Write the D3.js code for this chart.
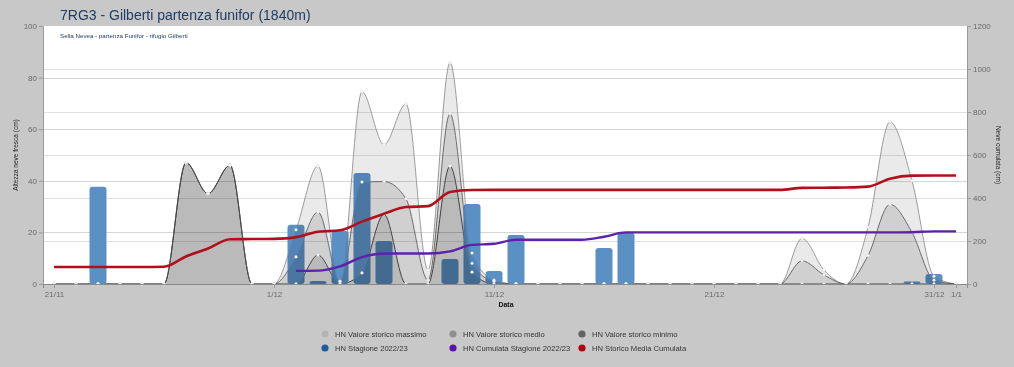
<!DOCTYPE html>
<html><head><meta charset="utf-8">
<script src="https://cdn.jsdelivr.net/npm/d3@7"></script>
<style>
html,body{margin:0;padding:0;background:#c8c8c8;}
svg{display:block;font-family:"Liberation Sans",Arial,sans-serif;}
</style></head><body>
<svg id="chart" width="1014" height="367"></svg>
<script>
// ---- categories (days) ----
const days = [
 "2022-11-21","2022-11-22","2022-11-23","2022-11-24","2022-11-25",
 "2022-11-26","2022-11-27","2022-11-28","2022-11-29","2022-11-30",
 "2022-12-01","2022-12-02","2022-12-03","2022-12-04","2022-12-05",
 "2022-12-06","2022-12-07","2022-12-08","2022-12-09","2022-12-10",
 "2022-12-11","2022-12-12","2022-12-13","2022-12-14","2022-12-15",
 "2022-12-16","2022-12-17","2022-12-18","2022-12-19","2022-12-20",
 "2022-12-21","2022-12-22","2022-12-23","2022-12-24","2022-12-25",
 "2022-12-26","2022-12-27","2022-12-28","2022-12-29","2022-12-30",
 "2022-12-31","2023-01-01"
];
// HN Valore storico massimo (cm)
const hnMax = [
 0,0,0,0,0,
 0,47,35,46,0,
 0,21,45.7,1,74.5,54,69.8,5.4,85.8,12,
 1.5,0,0,0,0,0,0,0,0,0,
 0,0,0,0,17.7,5.4,0,22,62.9,40,
 3,0
];
// HN Valore storico medio (cm)
const hnMed = [
 0,0,0,0,0,
 0,47,35,46,0,
 0,10.5,27.9,1,39.5,39.7,33,1.5,66,8,
 1,0,0,0,0,0,0,0,0,0,
 0,0,0,0,9,3.5,0,11,30.9,20,
 1.5,0
];
// HN Valore storico minimo (cm)
const hnMin = [
 0,0,0,0,0,
 0,47,35,46,0,
 0,0,11.2,0,4.3,27,0,0,45.7,4.6,
 0,0,0,0,0,0,0,0,0,0,
 0,0,0,0,0,0,0,0,0,0,
 0,0
];
// HN Storico Media Cumulata (cm, right axis)
const storicoCum = [
 79,79,79,79,79,
 80,128,165,208,209,
 210,218,243,250,290,327,358,362,428,437,
 438,438,438,438,438,438,438,438,438,438,
 438,438,438,438,447,448,449,453,490,504,
 505,505
];
// HN Cumulata Stagione 2022/23 (cm, right axis) from 2/12
const cumDays = days.slice(11);
const stagioneCum = [
 61,62,82,125,142,142,142,152,182,
 187,206,206,206,206,220,240,240,240,240,
 240,240,240,240,240,240,240,240,240,241,
 245,245
];
// HN Stagione 2022/23 (cm)
const barDays = ["2022-11-23","2022-12-02","2022-12-03","2022-12-04","2022-12-05","2022-12-06",
 "2022-12-09","2022-12-10","2022-12-11","2022-12-12","2022-12-16","2022-12-17","2022-12-30","2022-12-31"];
const barVals = [37.7,23,1.2,20.5,43,16.7,9.7,31,5,19,14,19.9,1,3.9];

const xTickDays = ["2022-11-21","2022-12-01","2022-12-11","2022-12-21","2022-12-31","2023-01-01"];
const leftTicks = [0,20,40,60,80,100];
const rightTicks = [0,200,400,600,800,1000,1200];

const legendItems = [
 ["HN Valore storico massimo","#b5b5b5"],
 ["HN Valore storico medio","#8f8f8f"],
 ["HN Valore storico minimo","#646464"],
 ["HN Stagione 2022/23","#1f5c99"],
 ["HN Cumulata Stagione 2022/23","#5c12a8"],
 ["HN Storico Media Cumulata","#b3000f"]
];

const parse = d3.timeParse("%Y-%m-%d");
const W = 1014, H = 367;
const L = 43, R = 967, T = 26, B = 284;
const svg = d3.select("#chart");

const x = d3.scaleTime()
  .domain([new Date(2022,10,20,12), new Date(2023,0,1,12)])
  .range([L, R]);
const yL = d3.scaleLinear().domain([0,100]).range([B, T]);
const yR = d3.scaleLinear().domain([0,1200]).range([B, T]);

svg.append("rect").attr("width", W).attr("height", H).attr("fill", "#c8c8c8");
svg.append("rect").attr("x", L).attr("y", T).attr("width", R - L).attr("height", B - T).attr("fill", "#fff");

// gridlines
const grid = svg.append("g");
leftTicks.filter(v => v > 0 && v < 100).forEach(v => {
  grid.append("line").attr("x1", L).attr("x2", R).attr("y1", Math.round(yL(v)) + 0.5).attr("y2", Math.round(yL(v)) + 0.5)
    .attr("stroke", "#d6d6d6");
});
rightTicks.filter(v => v > 0 && v < 1200).forEach(v => {
  grid.append("line").attr("x1", L).attr("x2", R).attr("y1", Math.round(yR(v)) + 0.5).attr("y2", Math.round(yR(v)) + 0.5)
    .attr("stroke", "#e0e0e0");
});

const dayDates = days.map(parse);
const areaSeries = [
  {vals: hnMax, fill: "#eaeaea", stroke: "#a3a3a3"},
  {vals: hnMed, fill: "#e3e3e3", stroke: "#7d7d7d"},
  {vals: hnMin, fill: "#e4e4e4", stroke: "#555555"}
];
const areaGen = d3.area().curve(d3.curveMonotoneX)
  .x((d, i) => x(dayDates[i])).y0(B).y1(d => yL(d));
const lineGen = d3.line().curve(d3.curveMonotoneX)
  .x((d, i) => x(dayDates[i])).y(d => yL(d));

// area outlines (under bars)
const strokesG = svg.append("g");
areaSeries.forEach(s => {
  strokesG.append("path").attr("d", lineGen(s.vals)).attr("fill", "none")
    .attr("stroke", s.stroke).attr("stroke-width", 1);
});

// bars
const bw = 17;
svg.append("g").selectAll("rect").data(barVals).join("rect")
  .attr("x", (d, i) => x(parse(barDays[i])) - bw / 2)
  .attr("y", d => yL(d))
  .attr("width", bw)
  .attr("height", d => B - yL(d))
  .attr("rx", 3).attr("ry", 3)
  .attr("fill", "#5b90c5");

// area fills (multiply)
const fillsG = svg.append("g");
areaSeries.forEach(s => {
  fillsG.append("path").attr("d", areaGen(s.vals)).attr("fill", s.fill)
    .style("mix-blend-mode", "multiply");
});

// markers
const markG = svg.append("g");
areaSeries.forEach(s => {
  s.vals.forEach((v, i) => {
    markG.append("circle").attr("cx", x(dayDates[i])).attr("cy", yL(v)).attr("r", 1.4)
      .attr("fill", "#fff").attr("stroke", "#c8c8c8").attr("stroke-width", 0.4);
  });
});

// cumulative lines
const cumLine = d3.line().curve(d3.curveMonotoneX);
svg.append("path")
  .attr("d", cumLine(storicoCum.map((v, i) => [x(dayDates[i]), yR(v)])))
  .attr("fill", "none").attr("stroke", "#b0101c").attr("stroke-width", 2.6);
svg.append("path")
  .attr("d", cumLine(stagioneCum.map((v, i) => [x(parse(cumDays[i])), yR(v)])))
  .attr("fill", "none").attr("stroke", "#5c22aa").attr("stroke-width", 2.4);

// axes
const axL = svg.append("g").attr("transform", `translate(${L},0)`)
  .call(d3.axisLeft(yL).tickValues(leftTicks).tickSize(4).tickPadding(2));
const axR = svg.append("g").attr("transform", `translate(${R},0)`)
  .call(d3.axisRight(yR).tickValues(rightTicks).tickFormat(d3.format("d")).tickSize(4).tickPadding(2));
const axX = svg.append("g").attr("transform", `translate(0,${B})`)
  .call(d3.axisBottom(x).tickValues(xTickDays.map(parse)).tickFormat(d3.timeFormat("%-d/%-m")).tickSize(4).tickPadding(3));
[axL, axR, axX].forEach(a => {
  a.selectAll("path.domain").attr("stroke", "#9a9a9a");
  a.selectAll(".tick line").attr("stroke", "#9a9a9a");
  a.selectAll(".tick text").attr("fill", "#6a6a6a").style("font-size", "8px").style("font-family", "'Liberation Sans',Arial,sans-serif");
});
axX.select("path.domain").attr("stroke", "#8a8a8a");

// titles
svg.append("text").attr("x", 60).attr("y", 20).text("7RG3 - Gilberti partenza funifor (1840m)")
  .attr("fill", "#1e3c64").style("font-size", "14px");
svg.append("text").attr("x", 60).attr("y", 38).text("Sella Nevea - partenza Funifor - rifugio Gilberti")
  .attr("fill", "#1e3c64").style("font-size", "6.2px");

svg.append("text").attr("transform", `translate(18,155) rotate(-90)`).attr("text-anchor", "middle")
  .text("Altezza neve fresca (cm)").attr("fill", "#222").style("font-size", "6.5px");
svg.append("text").attr("transform", `translate(996,155) rotate(90)`).attr("text-anchor", "middle")
  .text("Neve cumulata (cm)").attr("fill", "#222").style("font-size", "6.5px");
svg.append("text").attr("x", 506).attr("y", 307).attr("text-anchor", "middle")
  .text("Data").attr("fill", "#111").style("font-size", "7px").style("font-weight", "bold");

// legend
const colX = [325, 453, 582];
const rowY = [334, 348];
const lg = svg.append("g");
legendItems.forEach((it, i) => {
  const cx = colX[i % 3], cy = rowY[Math.floor(i / 3)];
  lg.append("circle").attr("cx", cx).attr("cy", cy).attr("r", 3.6).attr("fill", it[1]);
  lg.append("text").attr("x", cx + 10).attr("y", cy + 2.8).text(it[0])
    .attr("fill", "#333").style("font-size", "7.6px");
});
</script>
</body></html>
